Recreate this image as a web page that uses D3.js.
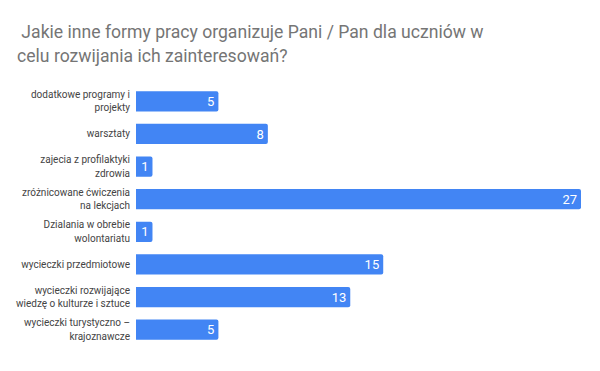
<!DOCTYPE html>
<html>
<head>
<meta charset="utf-8">
<script src="https://cdn.jsdelivr.net/npm/d3@7"></script>
<style>
  body { margin: 0; background: #fff; }
  svg { display: block; font-family: Roboto, sans-serif; }
</style>
</head>
<body>
<svg width="600" height="371"></svg>
<script>
var categories = [
  "dodatkowe programy i projekty",
  "warsztaty",
  "zajecia z profilaktyki zdrowia",
  "zróżnicowane ćwiczenia na lekcjach",
  "Dzialania w obrebie wolontariatu",
  "wycieczki przedmiotowe",
  "wycieczki rozwijające wiedzę o kulturze i sztuce",
  "wycieczki turystyczno – krajoznawcze"
];
var counts = [5, 8, 1, 27, 1, 15, 13, 5];
var titleLines = [" Jakie inne formy pracy organizuje Pani / Pan dla uczniów w", "celu rozwijania ich zainteresowań?"];

var svg = d3.select("svg");
var margin = {top: 85, right: 19, bottom: 25, left: 136};
var w = 600 - margin.left - margin.right,
    h = 371 - margin.top - margin.bottom;

var data = categories.map(function(c, i) { return {cat: c, val: counts[i]}; });

var xScale = d3.scaleLinear().domain([0, 27]).range([0, w]);
var yScale = d3.scaleBand().domain(categories).range([0, h]).paddingInner(0.38).paddingOuter(0.19);

// title
svg.append("text")
    .attr("x", 17)
    .attr("y", 38)
    .attr("fill", "#757575")
    .style("font-size", "17.6px")
    .style("white-space", "pre")
    .selectAll("tspan")
    .data(titleLines)
    .enter().append("tspan")
      .attr("x", 17)
      .attr("dy", function(d, i) { return i ? 24 : 0; })
      .text(function(d) { return d; });

var g = svg.append("g")
    .attr("transform", "translate(" + margin.left + "," + margin.top + ")");

// y axis labels only
g.append("g")
    .attr("class", "axis y-axis")
    .call(d3.axisLeft(yScale).tickSize(0).tickPadding(6))
    .call(function(a) { a.select(".domain").remove(); })
    .selectAll(".tick text")
      .attr("fill", "#444")
      .style("font-size", "10px")
      .style("font-family", "Roboto, sans-serif")
      .call(wrap, 116);

function wrap(texts, width) {
  texts.each(function() {
    var text = d3.select(this),
        words = text.text().split(/\s+/),
        lines = [], line = [];
    text.text(null);
    var probe = text.append("tspan");
    words.forEach(function(word) {
      line.push(word);
      probe.text(line.join(" "));
      if (probe.node().getComputedTextLength() > width && line.length > 1) {
        line.pop();
        lines.push(line.join(" "));
        line = [word];
      }
    });
    lines.push(line.join(" "));
    probe.remove();
    var lh = 13.5;
    var y0 = -(lines.length - 1) * lh / 2;
    lines.forEach(function(l, i) {
      text.append("tspan")
        .attr("x", -6)
        .attr("y", y0 + i * lh)
        .attr("dy", "0.32em")
        .text(l);
    });
  });
}

// bars
g.selectAll(".bar")
  .data(data)
  .enter().append("path")
    .attr("class", "bar")
    .attr("fill", "#4285f4")
    .attr("d", function(d) {
      var x1 = xScale(d.val), y0 = yScale(d.cat), bh = yScale.bandwidth(), r = 2;
      return "M0," + y0 + "H" + (x1 - r) + "Q" + x1 + "," + y0 + " " + x1 + "," + (y0 + r) +
             "V" + (y0 + bh - r) + "Q" + x1 + "," + (y0 + bh) + " " + (x1 - r) + "," + (y0 + bh) +
             "H0Z";
    });

// value labels
g.selectAll(".val")
  .data(data)
  .enter().append("text")
    .attr("class", "val")
    .attr("x", function(d) { return xScale(d.val) - 4; })
    .attr("y", function(d) { return yScale(d.cat) + yScale.bandwidth() / 2; })
    .attr("dy", "0.36em")
    .attr("text-anchor", "end")
    .attr("fill", "#fff")
    .style("font-size", "13px")
    .text(function(d) { return d.val; });
</script>
</body>
</html>
